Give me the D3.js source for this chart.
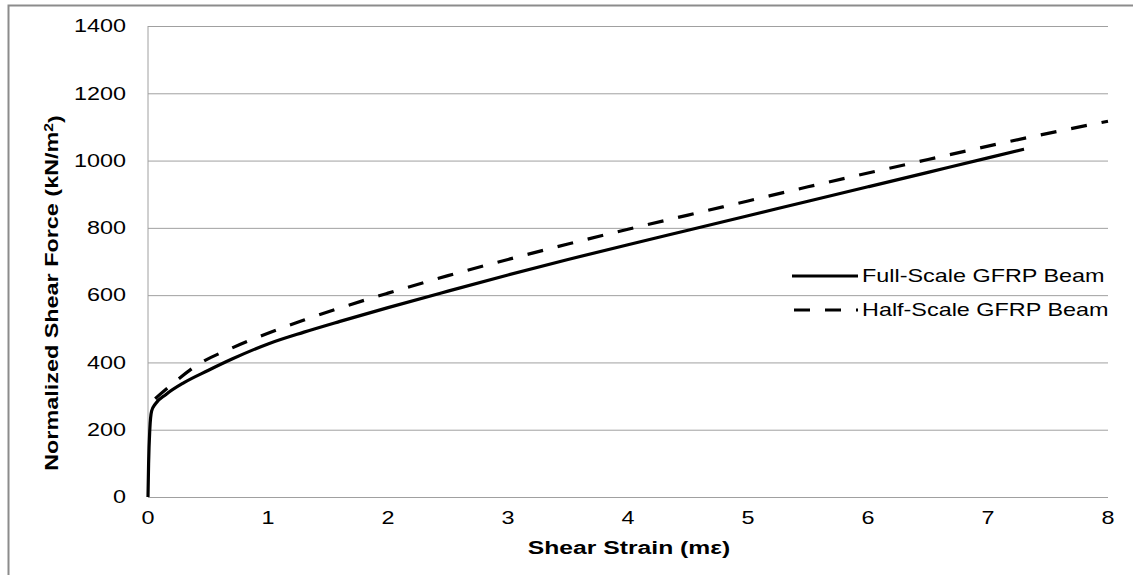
<!DOCTYPE html>
<html>
<head>
<meta charset="utf-8">
<script src="https://cdn.jsdelivr.net/npm/d3@7"></script>
<style>
  body { margin: 0; background: #fff; }
  text { font-family: "Liberation Sans", Arial, sans-serif; fill: #000; }
</style>
</head>
<body>
<div class="canvas"></div>
<script>
// shear strain (me) vs normalized shear force (kN/m2)
const fullStrain = [0, 0.005, 0.015, 0.03, 0.06, 0.15, 0.3, 0.5, 0.7, 1, 1.3, 1.6, 2, 2.5, 3, 3.5, 4, 4.5, 5, 5.5, 6, 6.5, 7, 7.3];
const fullForce  = [0, 100, 200, 255, 276, 305, 340, 376, 410, 455, 490, 522, 563, 612, 660, 706, 750, 793, 836, 879, 922, 965, 1008, 1034];

const halfStrain = [0.06, 0.1, 0.2, 0.4, 0.7, 1, 1.3, 1.6, 2, 2.5, 3, 3.5, 4, 4.5, 5, 5.5, 6, 6.5, 7, 7.5, 8];
const halfForce  = [292, 305, 335, 390, 443, 487, 526, 562, 606, 658, 706, 752, 796, 838, 880, 922, 963, 1003, 1043, 1081, 1117];

const xTicks = [0, 1, 2, 3, 4, 5, 6, 7, 8];
const yTicks = [0, 200, 400, 600, 800, 1000, 1200, 1400];

const seriesNames = ['Full-Scale GFRP Beam', 'Half-Scale GFRP Beam'];

const W = 1133, H = 575;
const stretch = 1.3; // glyphs in the picture are wider than Arial

const svg = d3.select('.canvas').append('svg').attr('width', W).attr('height', H);

// outer chart frame
svg.append('rect')
  .attr('x', 8.5).attr('y', 5.5)
  .attr('width', W + 10).attr('height', H + 10)
  .attr('fill', 'none').attr('stroke', '#8c8c8c').attr('stroke-width', 2);

const x = d3.scaleLinear().domain([0, 8]).range([148, 1108]);
const y = d3.scaleLinear().domain([0, 1400]).range([497, 26]);

// wide text helper
function label(sel, tx, ty, str, opts) {
  const g = sel.append('g').attr('transform',
    `translate(${tx},${ty}) rotate(${opts.rotate || 0}) scale(${stretch},1)`);
  g.append('text')
    .attr('text-anchor', opts.anchor || 'middle')
    .attr('dy', '0.35em')
    .style('font-size', opts.size + 'px')
    .style('font-weight', opts.bold ? 'bold' : 'normal')
    .text(str);
  return g;
}

// gridlines
svg.append('g')
  .attr('transform', `translate(${x(0)},0)`)
  .call(d3.axisLeft(y).tickValues(yTicks).tickSize(-(x(8) - x(0))).tickFormat(''))
  .call(g => g.select('.domain').remove())
  .call(g => g.selectAll('line').attr('stroke', '#a0a0a0').attr('stroke-width', 1));

// left axis line
svg.append('line')
  .attr('x1', x(0)).attr('x2', x(0))
  .attr('y1', y(0)).attr('y2', y(1400))
  .attr('stroke', '#a0a0a0');

// tick labels
yTicks.forEach(v => label(svg, 126, y(v), v, { anchor: 'end', size: 18 }));
xTicks.forEach(v => label(svg, x(v), 518, v, { size: 18 }));

// axis titles
label(svg, 629, 547, 'Shear Strain (mε)', { size: 19, bold: true });
const yt = label(svg, 52, 293, '', { size: 18, bold: true, rotate: -90 });
const ytt = yt.select('text');
ytt.append('tspan').text('Normalized Shear Force (kN/m');
ytt.append('tspan').attr('dy', '-0.45em').style('font-size', '12px').text('2');
ytt.append('tspan').attr('dy', '0.45em').text(')');

// curves
const line = d3.line()
  .x(d => x(d[0])).y(d => y(d[1]))
  .curve(d3.curveMonotoneX);

const fullData = fullStrain.map((s, i) => [s, fullForce[i]]);
const halfData = halfStrain.map((s, i) => [s, halfForce[i]]);

svg.append('path')
  .datum(fullData)
  .attr('d', line)
  .attr('fill', 'none').attr('stroke', '#000').attr('stroke-width', 3.2);

svg.append('path')
  .datum(halfData)
  .attr('d', line)
  .attr('fill', 'none').attr('stroke', '#000').attr('stroke-width', 3.2)
  .attr('stroke-dasharray', '16,15');

// legend
const legend = svg.append('g');
legend.append('line')
  .attr('x1', 792).attr('x2', 858).attr('y1', 276).attr('y2', 276)
  .attr('stroke', '#000').attr('stroke-width', 3.2);
legend.append('line')
  .attr('x1', 794).attr('x2', 858).attr('y1', 310).attr('y2', 310)
  .attr('stroke', '#000').attr('stroke-width', 3.2)
  .attr('stroke-dasharray', '16,15');
label(legend, 862, 276, seriesNames[0], { anchor: 'start', size: 18 });
label(legend, 862, 310, seriesNames[1], { anchor: 'start', size: 18 });
</script>
</body>
</html>
